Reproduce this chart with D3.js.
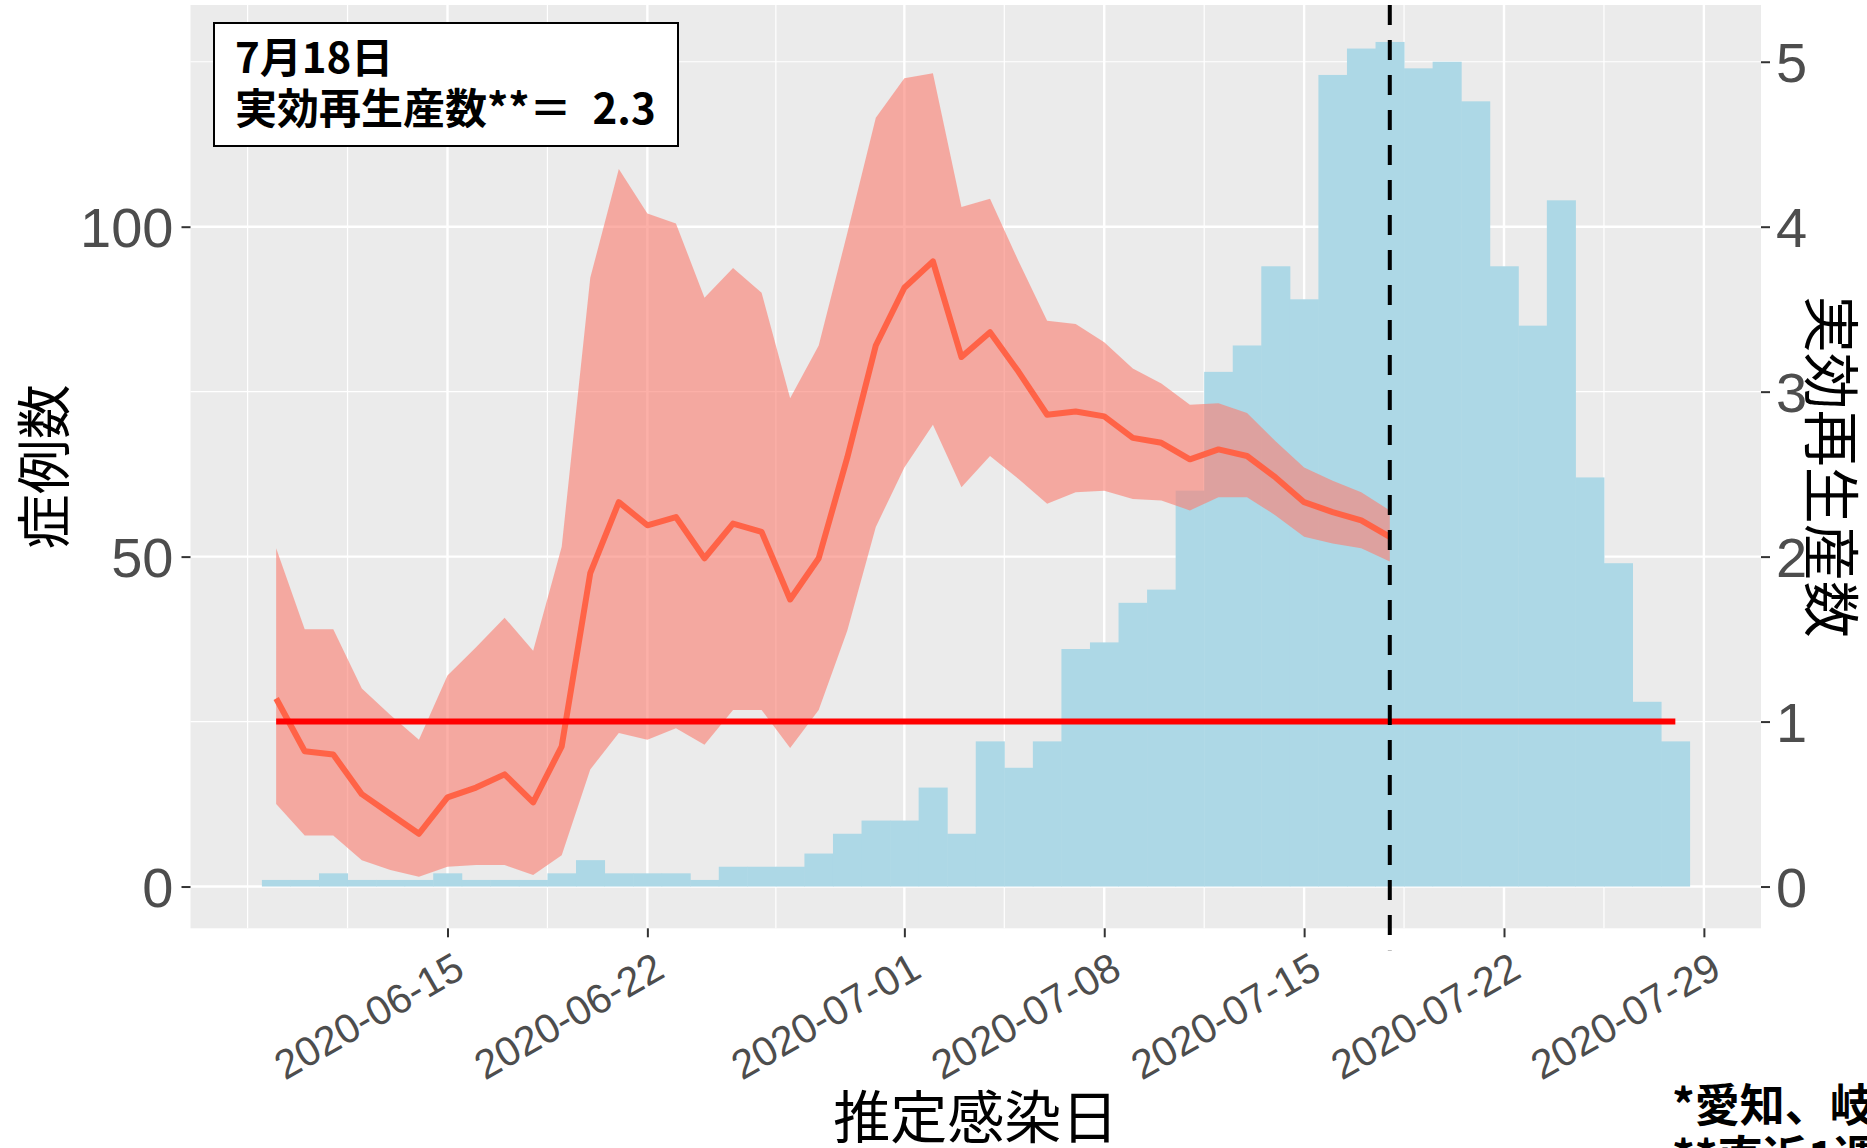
<!DOCTYPE html>
<html><head><meta charset="utf-8">
<script src="https://cdn.jsdelivr.net/npm/d3@7"></script>
<style>
html,body{margin:0;padding:0;background:#fff;overflow:hidden}
svg{display:block}
</style>
</head><body>
<svg id="chart" width="1867" height="1148"></svg>
<script>
// ---------------- data ----------------
const caseDates = [
 "2020-06-09","2020-06-10","2020-06-11","2020-06-12","2020-06-13","2020-06-14","2020-06-15","2020-06-16","2020-06-17","2020-06-18",
 "2020-06-19","2020-06-20","2020-06-21","2020-06-22","2020-06-23","2020-06-24","2020-06-25","2020-06-26","2020-06-27","2020-06-28",
 "2020-06-29","2020-06-30","2020-07-01","2020-07-02","2020-07-03","2020-07-04","2020-07-05","2020-07-06","2020-07-07","2020-07-08",
 "2020-07-09","2020-07-10","2020-07-11","2020-07-12","2020-07-13","2020-07-14","2020-07-15","2020-07-16","2020-07-17","2020-07-18",
 "2020-07-19","2020-07-20","2020-07-21","2020-07-22","2020-07-23","2020-07-24","2020-07-25","2020-07-26","2020-07-27","2020-07-28"];
const cases = [
 1,1,2,1,1,1,2,1,1,1,
 2,4,2,2,2,1,3,3,3,5,
 8,10,10,15,8,22,18,22,36,37,
 43,45,60,78,82,94,89,123,127,128,
 124,125,119,94,85,104,62,49,28,22];

const rDates = [
 "2020-06-09","2020-06-10","2020-06-11","2020-06-12","2020-06-13","2020-06-14","2020-06-15","2020-06-16","2020-06-17","2020-06-18",
 "2020-06-19","2020-06-20","2020-06-21","2020-06-22","2020-06-23","2020-06-24","2020-06-25","2020-06-26","2020-06-27","2020-06-28",
 "2020-06-29","2020-06-30","2020-07-01","2020-07-02","2020-07-03","2020-07-04","2020-07-05","2020-07-06","2020-07-07","2020-07-08",
 "2020-07-09","2020-07-10","2020-07-11","2020-07-12","2020-07-13","2020-07-14","2020-07-15","2020-07-16","2020-07-17","2020-07-18"];
const rMean = [1.14,0.82,0.80,0.56,0.44,0.32,0.54,0.60,0.68,0.51,
 0.85,1.90,2.33,2.19,2.24,1.99,2.20,2.15,1.74,1.99,
 2.60,3.28,3.63,3.79,3.21,3.36,3.12,2.86,2.88,2.85,
 2.72,2.69,2.59,2.65,2.61,2.48,2.33,2.27,2.22,2.12];
const rLow = [0.50,0.31,0.31,0.16,0.10,0.06,0.12,0.13,0.13,0.07,
 0.19,0.71,0.93,0.89,0.96,0.86,1.07,1.07,0.84,1.07,
 1.55,2.18,2.54,2.80,2.42,2.61,2.47,2.32,2.39,2.40,
 2.35,2.34,2.28,2.36,2.36,2.25,2.12,2.08,2.05,1.97];
const rHigh = [2.05,1.56,1.56,1.20,1.04,0.89,1.28,1.45,1.63,1.43,
 2.06,3.69,4.35,4.08,4.02,3.57,3.75,3.60,2.96,3.28,
 3.96,4.66,4.90,4.93,4.12,4.17,3.79,3.43,3.41,3.30,
 3.14,3.05,2.92,2.93,2.87,2.70,2.54,2.46,2.39,2.28];

const xTickDates = ["2020-06-15","2020-06-22","2020-07-01","2020-07-08","2020-07-15","2020-07-22","2020-07-29"];
const xMinorDates = ["2020-06-08T00:00Z","2020-06-11T12:00Z","2020-06-18T12:00Z","2020-06-26T12:00Z","2020-07-04T12:00Z","2020-07-11T12:00Z","2020-07-18T12:00Z","2020-07-25T12:00Z"];
const yTicksLeft = [0, 50, 100];
const yMinorLeft = [25, 75, 125];
const yTicksRight = [0, 1, 2, 3, 4, 5];
const rRatio = 25;              // 1 unit of R = 25 cases
const refLine = {value: 1, from: "2020-06-09", to: "2020-07-28"};
const markDate = "2020-07-18";
const annotLines = ["7月18日", "実効再生産数**＝\u20022.3"];
const xTitle = "推定感染日";
const yTitleLeft = "症例数";
const yTitleRight = "実効再生産数";
const footLines = ["*愛知、岐阜、三重県の合計", "**直近1週間は推定値"];

// ---------------- layout ----------------
const P = {left:190.5, right:1761, top:5, bottom:928.3};
const parse = s => new Date(s.length === 10 ? s + "T00:00:00Z" : s);
const x = d3.scaleUtc().domain([parse("2020-06-06"), parse("2020-07-31")]).range([P.left, P.right]);
const y = d3.scaleLinear().domain([-6.33, 133.6]).range([P.bottom, P.top]);
const yR = d3.scaleLinear().domain([-6.33 / rRatio, 133.6 / rRatio]).range([P.bottom, P.top]);

const svg = d3.select("#chart");
const num = "'Liberation Sans', Arial, sans-serif";
const cjk = "'Noto Sans CJK JP', 'Noto Sans', sans-serif";

// panel
svg.append("rect").attr("x", P.left).attr("y", P.top)
  .attr("width", P.right - P.left).attr("height", P.bottom - P.top).attr("fill", "#EBEBEB");

const grid = svg.append("g");
grid.selectAll(".hmin").data(yMinorLeft).join("line")
  .attr("x1", P.left).attr("x2", P.right).attr("y1", d => y(d)).attr("y2", d => y(d))
  .attr("stroke", "#fff").attr("stroke-width", 1.2);
grid.selectAll(".vmin").data(xMinorDates).join("line")
  .attr("y1", P.top).attr("y2", P.bottom).attr("x1", d => x(parse(d))).attr("x2", d => x(parse(d)))
  .attr("stroke", "#fff").attr("stroke-width", 1.2);
grid.selectAll(".hmaj").data(yTicksLeft).join("line")
  .attr("x1", P.left).attr("x2", P.right).attr("y1", d => y(d)).attr("y2", d => y(d))
  .attr("stroke", "#fff").attr("stroke-width", 2.4);
grid.selectAll(".vmaj").data(xTickDates).join("line")
  .attr("y1", P.top).attr("y2", P.bottom).attr("x1", d => x(parse(d))).attr("x2", d => x(parse(d)))
  .attr("stroke", "#fff").attr("stroke-width", 2.4);

// bars
const dayW = x(parse("2020-06-16")) - x(parse("2020-06-15"));
svg.append("g").selectAll("rect").data(caseDates.map((d, i) => ({d: parse(d), v: cases[i]}))).join("rect")
  .attr("x", d => x(d.d) - dayW / 2)
  .attr("width", dayW + 0.5)
  .attr("y", d => y(d.v))
  .attr("height", d => y(0) - y(d.v))
  .attr("fill", "#ADD8E6");

// ribbon
const rData = rDates.map((d, i) => ({d: parse(d), m: rMean[i], lo: rLow[i], hi: rHigh[i]}));
svg.append("path").datum(rData)
  .attr("d", d3.area().x(d => x(d.d)).y0(d => yR(d.lo)).y1(d => yR(d.hi)))
  .attr("fill", "#FA8072").attr("fill-opacity", 0.62);

// R line
svg.append("path").datum(rData)
  .attr("d", d3.line().x(d => x(d.d)).y(d => yR(d.m)))
  .attr("fill", "none").attr("stroke", "#FF6347").attr("stroke-width", 6).attr("stroke-linejoin", "round");

// reference line R = 1
svg.append("line")
  .attr("x1", x(parse(refLine.from))).attr("x2", x(parse(refLine.to)))
  .attr("y1", yR(refLine.value)).attr("y2", yR(refLine.value))
  .attr("stroke", "#FF0000").attr("stroke-width", 6);

// dashed vertical line
svg.append("line")
  .attr("x1", x(parse(markDate))).attr("x2", x(parse(markDate)))
  .attr("y1", P.top).attr("y2", P.bottom + 22)
  .attr("stroke", "#000").attr("stroke-width", 4).attr("stroke-dasharray", "20,15");

// axes
const axL = svg.append("g").attr("transform", `translate(${P.left},0)`)
  .call(d3.axisLeft(y).tickValues(yTicksLeft).tickSize(9).tickPadding(8));
const axR = svg.append("g").attr("transform", `translate(${P.right},0)`)
  .call(d3.axisRight(yR).tickValues(yTicksRight).tickSize(9).tickPadding(6).tickFormat(d3.format("d")));
const axB = svg.append("g").attr("transform", `translate(0,${P.bottom})`)
  .call(d3.axisBottom(x).tickValues(xTickDates.map(parse)).tickSize(9).tickFormat(d3.utcFormat("%Y-%m-%d")));
[axL, axR, axB].forEach(a => {
  a.select(".domain").remove();
  a.selectAll(".tick line").attr("stroke", "#333").attr("stroke-width", 2);
  a.selectAll(".tick text").attr("fill", "#4D4D4D").style("font-family", num);
});
axL.selectAll(".tick text").style("font-size", "56px").attr("dy", "0.36em");
axR.selectAll(".tick text").style("font-size", "56px").attr("dy", "0.36em");
axB.selectAll(".tick text").style("font-size", "41px")
  .attr("x", 0).attr("y", 0).attr("dy", "0.72em")
  .attr("transform", "translate(4,22) rotate(-30)")
  .style("text-anchor", "end");

// axis titles
svg.append("text").attr("x", (P.left + P.right) / 2).attr("y", 1138)
  .attr("text-anchor", "middle").style("font-family", cjk).style("font-size", "57px").attr("fill", "#000")
  .text(xTitle);
svg.append("text").attr("transform", `translate(64,${(P.top + P.bottom) / 2}) rotate(-90)`)
  .attr("text-anchor", "middle").style("font-family", cjk).style("font-size", "55px").attr("fill", "#000")
  .text(yTitleLeft);
svg.append("text").attr("transform", `translate(1810,${(P.top + P.bottom) / 2}) rotate(90)`)
  .attr("text-anchor", "middle").style("font-family", cjk).style("font-size", "57px").attr("fill", "#000")
  .text(yTitleRight);

// annotation box
svg.append("rect").attr("x", 214).attr("y", 23).attr("width", 464).attr("height", 123)
  .attr("fill", "#fff").attr("stroke", "#000").attr("stroke-width", 2);
svg.append("g").selectAll("text").data(annotLines).join("text")
  .attr("x", 235).attr("y", (d, i) => 73 + i * 51)
  .style("font-family", cjk).style("font-size", "42px").style("font-weight", 700).attr("fill", "#000")
  .text(d => d);

// footnote
svg.append("g").selectAll("text").data(footLines).join("text")
  .attr("x", 1672).attr("y", (d, i) => 1122 + i * 52)
  .style("font-family", cjk).style("font-size", "45px").style("font-weight", 700).attr("fill", "#000")
  .text(d => d);
</script>
</body></html>
